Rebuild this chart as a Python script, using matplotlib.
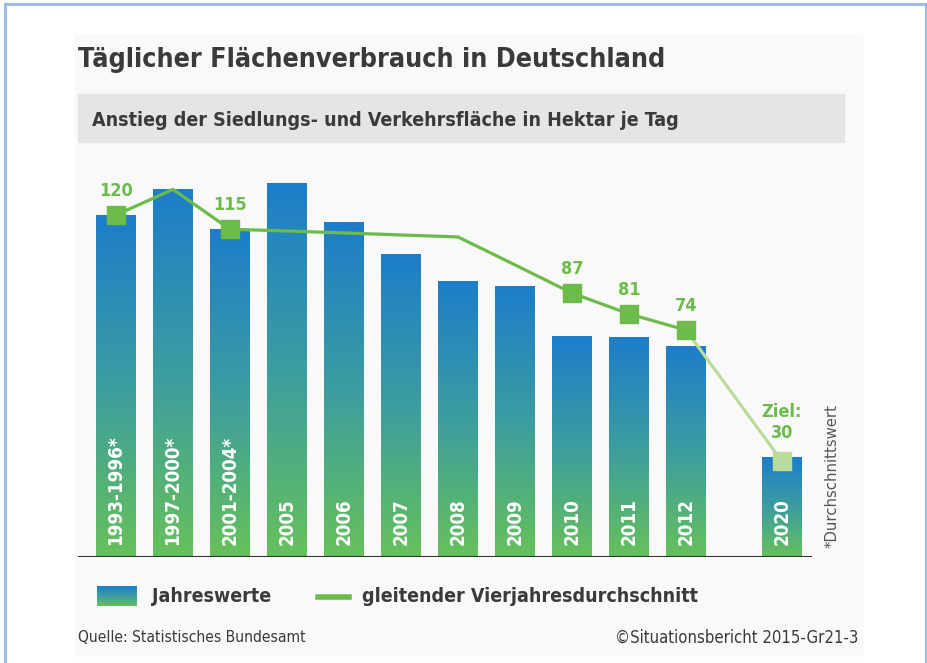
import matplotlib
matplotlib.use('Agg')
import matplotlib.pyplot as plt
import numpy as np
from matplotlib.colors import LinearSegmentedColormap
from matplotlib.lines import Line2D
from matplotlib.patches import Rectangle


"""----Data----"""
categories = ['1993-1996*', '1997-2000*', '2001-2004*', '2005', '2006', '2007',
              '2008', '2009', '2010', '2011', '2012', '2020']
annual = [120, 129, 115, 131, 117.5, 106, 96.5, 95, 77.5, 77, 74, 35]
average = [120, 129, 115, 114.4, 113.7, 113, 112.3, 102.5, 92.6, 85.3, 79.6, 33.7]
average_labels = {0: '120', 2: '115', 8: '87', 9: '81', 10: '74', 11: 'Ziel:\n30'}

"""----Style----"""
BLUE = '#1d7dca'
GREEN = '#66c15a'
LINE_GREEN = '#6cbb4b'
PALE_GREEN = '#b9dc9b'
TEXT = '#3a3a3a'
FONT = dict(family='DejaVu Sans', fontstretch='condensed')
W, H = 928, 663


def fx(px):
    return px / W


def fy(py):
    return 1 - py / H


def main():
    fig = plt.figure(figsize=(W / 100, H / 100), dpi=100)
    fig.patch.set_facecolor('white')

    # panel, frame and subtitle band
    fig.patches.append(Rectangle((fx(75), fy(655)), fx(862) - fx(75), fy(35) - fy(655),
                                 transform=fig.transFigure, color='#f9f9f9', zorder=-3))
    fig.patches.append(Rectangle((fx(78), fy(142)), fx(844) - fx(78), fy(94) - fy(142),
                                 transform=fig.transFigure, color='#e4e5e6', zorder=-2))
    for xs, ys in [([5, 5], [4, 663]), ([5, 926], [4, 4]), ([926, 926], [4, 663])]:
        fig.lines.append(Line2D([fx(v) for v in xs], [fy(v) for v in ys], transform=fig.transFigure,
                                color='#9dbde6', lw=2.2, zorder=-1))

    fig.text(fx(78), fy(60), 'Täglicher Flächenverbrauch in Deutschland', fontsize=19.3,
             fontweight='bold', color=TEXT, va='center', **FONT)
    fig.text(fx(92), fy(120), 'Anstieg der Siedlungs- und Verkehrsfläche in Hektar je Tag', fontsize=14,
             fontweight='bold', color=TEXT, va='center', **FONT)

    ax = fig.add_axes([fx(78), fy(557), fx(845) - fx(78), fy(160) - fy(557)])
    ax.patch.set_alpha(0)
    x = np.arange(len(categories), dtype=float)
    x[-1] += 0.68

    cmap = LinearSegmentedColormap.from_list('bar', [GREEN, '#3c9da0', BLUE])
    grad = np.linspace(0, 1, 256).reshape(-1, 1)
    bars = ax.bar(x, annual, width=0.7, color='none', zorder=2)
    for bar in bars:
        x0, w, h = bar.get_x(), bar.get_width(), bar.get_height()
        ax.imshow(grad, extent=[x0, x0 + w, 0, h], origin='lower', cmap=cmap, aspect='auto', zorder=2)

    for xi, label in zip(x, categories):
        ax.annotate(label, (xi, 0), xytext=(0, 8.5), textcoords='offset points', rotation=90,
                    ha='center', va='bottom', color='white', fontsize=13.5, fontweight='bold', **FONT)

    ax.hlines(0, x[0] - 0.66, x[-1] + 0.53, color='#333333', lw=1.5, zorder=3)

    ax.plot(x[:-1], average[:-1], color=LINE_GREEN, lw=2.3, zorder=4)
    ax.plot(x[-2:], average[-2:], color=PALE_GREEN, lw=2.3, zorder=4)
    marked = [i for i in average_labels if i != len(x) - 1]
    ax.plot(x[marked], [average[i] for i in marked], 's', color=LINE_GREEN, ms=12.5, zorder=5)
    ax.plot(x[-1], average[-1], 's', color=PALE_GREEN, ms=12.5, zorder=5)
    for i, text in average_labels.items():
        lift = 14 if '\n' in text else 11
        ax.annotate(text, (x[i], average[i]), xytext=(0, lift), textcoords='offset points',
                    ha='center', va='bottom', color=LINE_GREEN, fontsize=13, fontweight='bold',
                    linespacing=1.15, **FONT)

    ax.set_xlim(-0.667, 12.79)
    ax.set_ylim(0, (557 - 160) / 2.85)
    ax.axis('off')

    fig.text(fx(832), fy(548), '*Durchschnittswert', rotation=90, ha='center', va='bottom',
             fontsize=10.7, color='#555555')

    # legend
    lax = fig.add_axes([fx(97), fy(606), fx(137) - fx(97), fy(586) - fy(606)])
    lax.imshow(grad, cmap=cmap, origin='lower', aspect='auto')
    lax.axis('off')
    fig.text(fx(152), fy(596), 'Jahreswerte', fontsize=14, fontweight='bold', color=TEXT,
             va='center', **FONT)
    fig.lines.append(Line2D([fx(318), fx(349)], [fy(597), fy(597)], transform=fig.transFigure,
                            color=LINE_GREEN, lw=4))
    fig.text(fx(362), fy(596), 'gleitender Vierjahresdurchschnitt', fontsize=14, fontweight='bold',
             color=TEXT, va='center', **FONT)

    fig.text(fx(78), fy(638), 'Quelle: Statistisches Bundesamt', fontsize=11.2, color=TEXT,
             va='center', **FONT)
    fig.text(fx(858), fy(638), '©Situationsbericht 2015-Gr21-3', fontsize=12, color=TEXT,
             va='center', ha='right', **FONT)

    fig.savefig('out.png', dpi=100)


if __name__ == '__main__':
    main()
